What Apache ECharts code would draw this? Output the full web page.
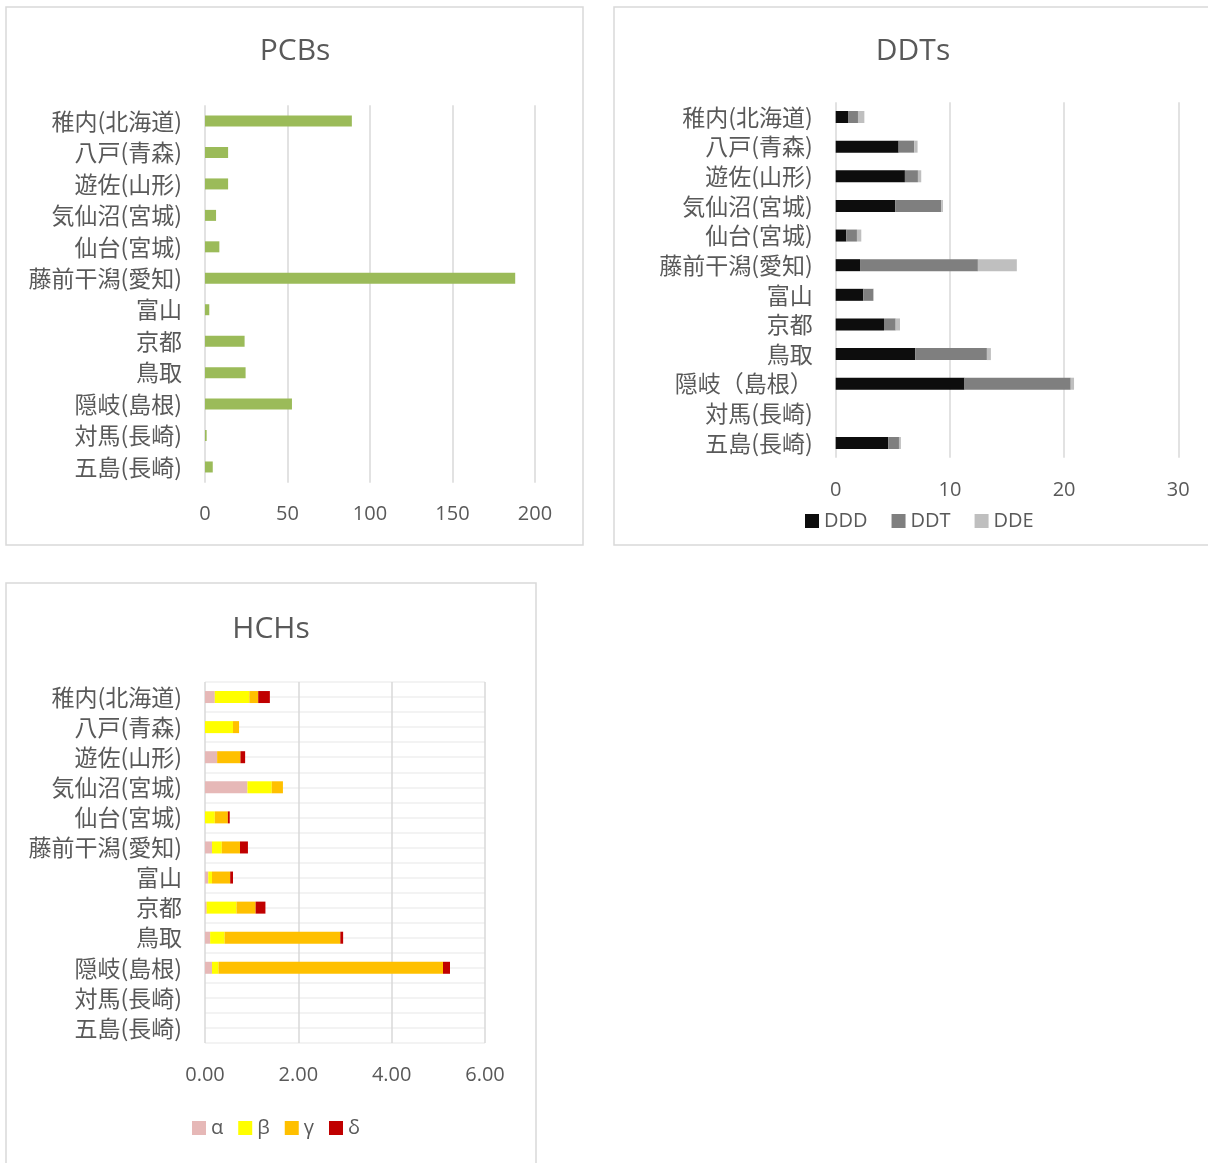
<!DOCTYPE html>
<html>
<head>
<meta charset="utf-8">
<style>
  html, body { margin: 0; padding: 0; background: #ffffff; }
  #chart { width: 1208px; height: 1163px; }
</style>
<script src="https://cdn.jsdelivr.net/npm/echarts@6/dist/echarts.min.js"></script>
</head>
<body>
<div id="chart"></div>
<script>
// Sampling sites (top to bottom)
const categories = ['稚内(北海道)', '八戸(青森)', '遊佐(山形)', '気仙沼(宮城)', '仙台(宮城)', '藤前干潟(愛知)', '富山', '京都', '鳥取', '隠岐(島根)', '対馬(長崎)', '五島(長崎)'];
const categoriesDDT = ['稚内(北海道)', '八戸(青森)', '遊佐(山形)', '気仙沼(宮城)', '仙台(宮城)', '藤前干潟(愛知)', '富山', '京都', '鳥取', '隠岐（島根）', '対馬(長崎)', '五島(長崎)'];

// PCBs
const pcbValues = [89, 14, 14, 6.7, 8.7, 188, 2.6, 24, 24.6, 52.7, 1.0, 4.7];

// DDTs (stacked)
const dddValues = [1.08, 5.51, 6.06, 5.22, 0.93, 2.13, 2.42, 4.23, 6.97, 11.28, null, 4.61];
const ddtValues = [0.87, 1.37, 1.14, 4.02, 0.93, 10.32, 0.87, 1.02, 6.27, 9.30, null, 0.93];
const ddeValues = [0.56, 0.29, 0.29, 0.15, 0.38, 3.41, 0.05, 0.38, 0.35, 0.29, null, 0.17];

// HCHs (stacked)
const hchAlpha = [0.21, 0, 0.26, 0.91, 0, 0.15, 0.07, 0.035, 0.11, 0.15, null, null];
const hchBeta  = [0.74, 0.60, 0, 0.52, 0.21, 0.21, 0.08, 0.64, 0.31, 0.14, null, null];
const hchGamma = [0.19, 0.13, 0.50, 0.24, 0.28, 0.39, 0.39, 0.41, 2.48, 4.81, null, null];
const hchDelta = [0.25, 0, 0.10, 0, 0.04, 0.17, 0.06, 0.21, 0.06, 0.15, null, null];

const pcbTicks = { min: 0, max: 200, interval: 50 };
const ddtTicks = { min: 0, max: 30, interval: 10 };
const hchTicks = { min: 0, max: 6, interval: 2 };

const TEXT = '#595959';
const GRID = '#d9d9d9';
const CJK = '"Noto Sans CJK JP", "Noto Sans", sans-serif';
const LATIN = '"Open Sans", "Noto Sans", sans-serif';

function catAxis(gridIndex, data) {
  return {
    type: 'category', gridIndex, data, inverse: true,
    axisLine: { show: false }, axisTick: { show: false },
    axisLabel: { interval: 0, margin: 23, fontSize: 23, color: TEXT, fontFamily: CJK },
    splitLine: { show: false }
  };
}
function valAxis(gridIndex, ticks, fmt) {
  return {
    type: 'value', gridIndex, min: ticks.min, max: ticks.max, interval: ticks.interval,
    axisLine: { show: false }, axisTick: { show: false },
    axisLabel: { margin: 22, fontSize: 20, color: TEXT, fontFamily: LATIN, formatter: fmt },
    splitLine: { show: true, lineStyle: { color: GRID, width: 1.5 } }
  };
}

const chart = echarts.init(document.getElementById('chart'), null, { renderer: 'canvas' });

const titleStyle = { fontSize: 30, fontWeight: 'normal', color: TEXT, fontFamily: LATIN, lineHeight: 32 };

const option = {
  animation: false,
  backgroundColor: '#ffffff',
  graphic: [
    { type: 'rect', shape: { x: 6, y: 7, width: 577, height: 538 }, style: { fill: 'none', stroke: GRID, lineWidth: 1.5 }, z: -10 },
    { type: 'rect', shape: { x: 614, y: 7, width: 600, height: 538 }, style: { fill: 'none', stroke: GRID, lineWidth: 1.5 }, z: -10 },
    { type: 'rect', shape: { x: 6, y: 583, width: 530, height: 600 }, style: { fill: 'none', stroke: GRID, lineWidth: 1.5 }, z: -10 }
  ],
  title: [
    { text: 'PCBs', left: 290, top: 30, textAlign: 'center', textStyle: titleStyle },
    { text: 'DDTs', left: 908, top: 30, textAlign: 'center', textStyle: titleStyle },
    { text: 'HCHs', left: 266, top: 608, textAlign: 'center', textStyle: titleStyle }
  ],
  legend: [
    { data: ['DDD', 'DDT', 'DDE'], left: 805, top: 511, padding: 0, icon: 'rect', itemWidth: 14, itemHeight: 14, itemGap: 24,
      textStyle: { fontSize: 20, color: TEXT, fontFamily: LATIN } },
    { data: ['α', 'β', 'γ', 'δ'], left: 192, top: 1118, padding: 0, icon: 'rect', itemWidth: 14, itemHeight: 14, itemGap: 15,
      textStyle: { fontSize: 20, color: TEXT, fontFamily: LATIN } }
  ],
  grid: [
    { left: 205, top: 105.3, width: 330, height: 377.4 },
    { left: 835.7, top: 102.2, width: 342.6, height: 355.6 },
    { left: 205, top: 682, width: 280, height: 361 }
  ],
  xAxis: [
    valAxis(0, pcbTicks),
    valAxis(1, ddtTicks),
    valAxis(2, hchTicks, v => v.toFixed(2))
  ],
  yAxis: [
    catAxis(0, categories),
    catAxis(1, categoriesDDT),
    catAxis(2, categories),
    // half-category guide lines inside the HCHs plot
    { type: 'value', gridIndex: 2, min: 0, max: 24, interval: 1, inverse: true,
      axisLine: { show: false }, axisTick: { show: false }, axisLabel: { show: false },
      splitLine: { show: true, lineStyle: { color: '#efefef', width: 1.5 } } }
  ],
  series: [
    { name: 'PCBs', type: 'bar', xAxisIndex: 0, yAxisIndex: 0, data: pcbValues, barWidth: 11,
      itemStyle: { color: '#9bbb59' } },

    { name: 'DDD', type: 'bar', stack: 'ddt', xAxisIndex: 1, yAxisIndex: 1, data: dddValues, barWidth: 12,
      itemStyle: { color: '#0d0d0d' } },
    { name: 'DDT', type: 'bar', stack: 'ddt', xAxisIndex: 1, yAxisIndex: 1, data: ddtValues, barWidth: 12,
      itemStyle: { color: '#7f7f7f' } },
    { name: 'DDE', type: 'bar', stack: 'ddt', xAxisIndex: 1, yAxisIndex: 1, data: ddeValues, barWidth: 12,
      itemStyle: { color: '#bfbfbf' } },

    { name: 'α', type: 'bar', stack: 'hch', xAxisIndex: 2, yAxisIndex: 2, data: hchAlpha, barWidth: 12,
      itemStyle: { color: '#e6b8b7' } },
    { name: 'β', type: 'bar', stack: 'hch', xAxisIndex: 2, yAxisIndex: 2, data: hchBeta, barWidth: 12,
      itemStyle: { color: '#ffff00' } },
    { name: 'γ', type: 'bar', stack: 'hch', xAxisIndex: 2, yAxisIndex: 2, data: hchGamma, barWidth: 12,
      itemStyle: { color: '#ffc000' } },
    { name: 'δ', type: 'bar', stack: 'hch', xAxisIndex: 2, yAxisIndex: 2, data: hchDelta, barWidth: 12,
      itemStyle: { color: '#c00000' } }
  ]
};

chart.setOption(option);
</script>
</body>
</html>
